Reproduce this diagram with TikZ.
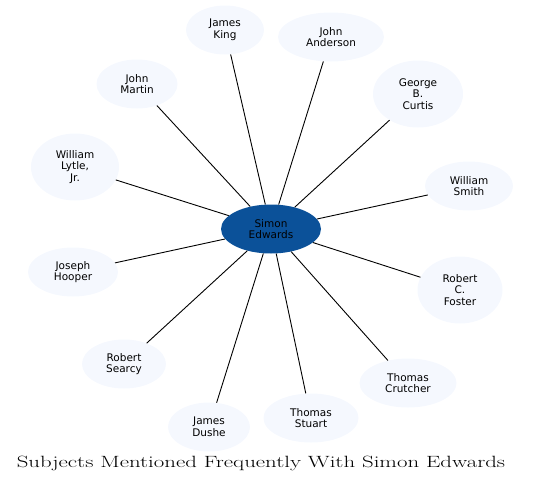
\documentclass[tikz,border=0pt]{standalone}
\usepackage{fontspec}
\setsansfont{DejaVu Sans}
\usetikzlibrary{shapes.geometric}
\definecolor{hubblue}{RGB}{11,81,153}
\definecolor{paleblue}{RGB}{245,248,254}

\begin{document}
\begin{tikzpicture}[x=1pt, y=-1pt,
    every node/.style={align=center, font=\sffamily\fontsize{10.5}{11.6}\selectfont},
    person/.style={ellipse, fill=paleblue, inner sep=0pt, minimum height=49pt},
    tall/.style={person, minimum height=67pt},
    link/.style={line width=0.9pt}]
        \useasboundingbox (0,0) rectangle (541,488);

        \node[ellipse, fill=hubblue, inner sep=0pt, minimum width=100pt, minimum height=49pt] (simon) at (271,229) {Simon\\Edwards};

        \node[person, minimum width=78pt] (king) at (225,30) {James\\King};
        \node[person, minimum width=106pt] (anderson) at (331,37) {John\\Anderson};
        \node[tall, minimum width=90pt] (curtis) at (418,94) {George\\B.\\Curtis};
        \node[person, minimum width=88pt] (smith) at (469,186) {William\\Smith};
        \node[tall, minimum width=85pt] (foster) at (460,290) {Robert\\C.\\Foster};
        \node[person, minimum width=97pt] (crutcher) at (408,383) {Thomas\\Crutcher};
        \node[person, minimum width=95pt] (stuart) at (311,418) {Thomas\\Stuart};
        \node[person, minimum width=82pt] (dushe) at (209,427) {James\\Dushe};
        \node[person, minimum width=84pt] (searcy) at (124,364) {Robert\\Searcy};
        \node[person, minimum width=90pt] (hooper) at (73,272) {Joseph\\Hooper};
        \node[tall, minimum width=88pt] (lytle) at (75,167) {William\\Lytle,\\Jr.};
        \node[person, minimum width=81pt] (martin) at (137,84) {John\\Martin};

        \foreach \other in {king,anderson,curtis,smith,foster,crutcher,stuart,dushe,searcy,hooper,lytle,martin}
            \draw[link] (simon) -- (\other);

        \node[font=\rmfamily\fontsize{16.3}{18}\selectfont, anchor=base] (title) at (261,467) {\scalebox{1.4}[1]{Subjects Mentioned Frequently With Simon Edwards}};
    \end{tikzpicture}
\end{document}
